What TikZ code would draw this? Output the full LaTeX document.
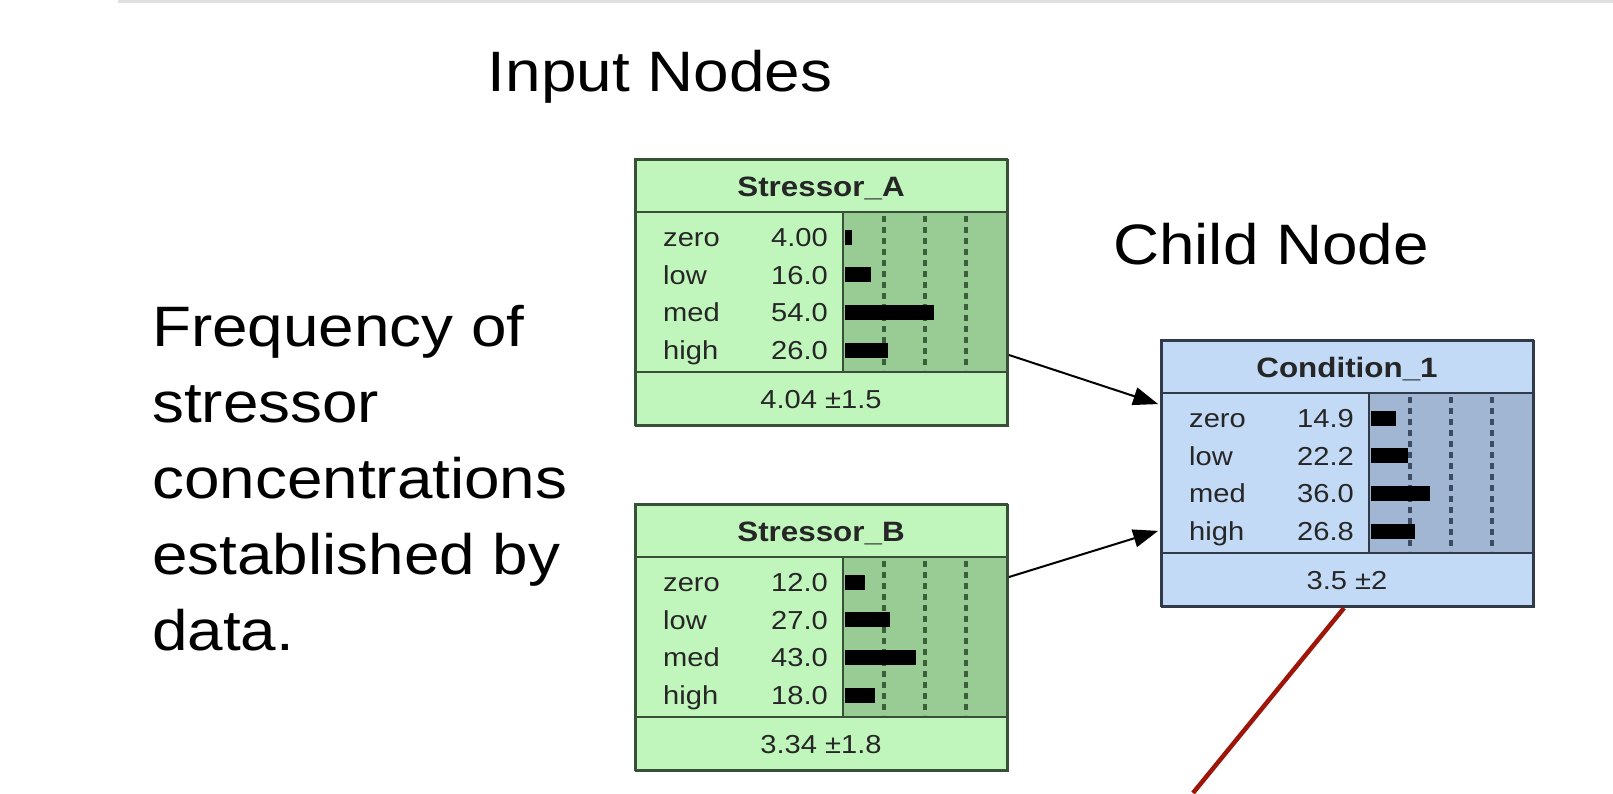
\documentclass[tikz,border=0pt]{standalone}
\usepackage{fontspec}
\setmainfont{Liberation Sans}[FakeStretch=1.12]
\usetikzlibrary{arrows.meta}

\definecolor{greenfill}{RGB}{192,246,188}
\definecolor{greenbars}{RGB}{152,204,148}
\definecolor{greenedge}{RGB}{56,80,56}
\definecolor{greendots}{RGB}{58,96,58}
\definecolor{bluefill}{RGB}{194,218,246}
\definecolor{bluebars}{RGB}{160,182,210}
\definecolor{blueedge}{RGB}{48,58,72}
\definecolor{bluedots}{RGB}{60,74,98}
\definecolor{darkred}{RGB}{158,22,10}

\tikzset{
  netbox/.style={draw=#1edge, fill=#1fill, line width=2pt, minimum width=372pt,
    minimum height=266pt, inner sep=0pt, anchor=north west},
  rowtext/.style={font=\fontsize{26}{30}\selectfont, text=black!85, inner sep=0pt},
  titletext/.style={font=\fontsize{28}{32}\selectfont\bfseries, text=black!85, inner sep=0pt},
  link/.style={-{Triangle[length=25pt,width=18pt]}, line width=2pt, shorten >=3pt},
  heading/.style={font=\fontsize{57}{76}\selectfont, inner sep=0pt}
}

% belief node: name, top left corner, colour set, title, states/values, mean
\newcommand{\beliefnode}[6]{%
  \begin{scope}[shift={(#2)}]
    \node[netbox=#3] (#1) at (0,0) {};
    \node[titletext, anchor=base] at (186,37) {#4};
    \draw[draw=#3edge, fill=#3bars, line width=2pt] (208,53) rectangle (372,213);
    \draw[#3edge, line width=2pt] (0,53) -- (208,53) (0,213) -- (208,213);
    \foreach \dx in {41,82,123}
      \draw[#3dots, line width=3.5pt, dash pattern=on 6pt off 5pt] (208+\dx,57) -- (208+\dx,211);
    \foreach \lab/\val [count=\i from 0] in {#5} {
      \pgfmathsetmacro\ry{78+37.7*\i}
      \node[rowtext, anchor=base west] at (28,\ry+9.3) {\lab};
      \node[rowtext, anchor=base east] at (193,\ry+9.3) {\val};
      \fill (210,\ry-7.5) rectangle ++(\val*1.65,15);
    }
    \node[rowtext, anchor=base] at (186,249) {#6};
    \draw[#3edge, line width=2pt] (0,0) rectangle (372,266);
  \end{scope}
}

\begin{document}
\begin{tikzpicture}[x=1pt,y=-1pt]
  \useasboundingbox (0,0) rectangle (1613,793);
  \fill[white] (0,0) rectangle (1613,793);
  \draw[black!12, line width=3pt] (118,1.5) -- (1613,1.5);

  % headings
  \node[heading, anchor=base] (inputs) at (660,91) {Input Nodes};
  \node[heading, anchor=base] (child) at (1271,264) {Child Node};
  \node[heading, anchor=north west, align=left] (freq) at (152,305)
    {Frequency of\\stressor\\concentrations\\established by\\data.};

  % network
  \beliefnode{stressorA}{635,159}{green}{Stressor\_A}
    {zero/4.00, low/16.0, med/54.0, high/26.0}{4.04 ±1.5}
  \beliefnode{stressorB}{635,504}{green}{Stressor\_B}
    {zero/12.0, low/27.0, med/43.0, high/18.0}{3.34 ±1.8}
  \beliefnode{condition}{1161,340}{blue}{Condition\_1}
    {zero/14.9, low/22.2, med/36.0, high/26.8}{3.5 ±2}

  \draw[link] ([yshift=-196pt]stressorA.north east) -- ([yshift=-65pt]condition.north west);
  \draw[link] ([yshift=-73pt]stressorB.north east) -- ([yshift=-190pt]condition.north west);

  \coordinate (tail) at (1193,793);
  \draw[darkred, line width=4.5pt] ([xshift=183pt]condition.south west) -- (tail);
\end{tikzpicture}
\end{document}
